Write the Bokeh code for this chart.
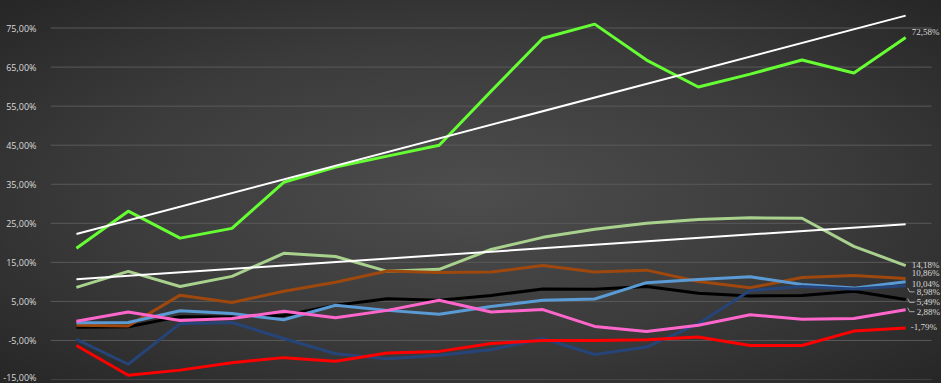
from bokeh.plotting import figure
from bokeh.models import (FixedTicker, CustomJSTickFormatter, Range1d, GlobalInlineStyleSheet,
                          LabelSet, ColumnDataSource)
from bokeh.embed import file_html
from bokeh.resources import INLINE
import numpy as np

periods = list(range(17))
y_ticks = [-15, -5, 5, 15, 25, 35, 45, 55, 65, 75]

green = [18.6, 28.1, 21.2, 23.7, 35.5, 39.4, 42.2, 45.0, 58.8, 72.4, 76.0, 66.8, 59.9, 63.2, 66.8, 63.5, 72.58]
light_green = [8.6, 12.7, 8.8, 11.4, 17.3, 16.5, 12.7, 13.2, 18.3, 21.4, 23.5, 25.0, 26.0, 26.4, 26.3, 19.1, 14.18]
brown = [-1.1, -1.3, 6.6, 4.7, 7.6, 9.9, 12.8, 12.4, 12.5, 14.2, 12.5, 13.0, 10.1, 8.5, 11.1, 11.6, 10.86]
black = [-1.6, -1.5, 1.1, 1.0, 1.4, 4.0, 5.7, 5.3, 6.5, 8.2, 8.1, 8.8, 7.1, 6.4, 6.5, 7.6, 5.49]
light_blue = [-0.5, -0.4, 2.6, 1.9, 0.3, 4.0, 2.7, 1.7, 3.7, 5.3, 5.6, 9.8, 10.6, 11.3, 9.3, 8.4, 10.04]
dark_blue = [-4.7, -11.1, -0.7, -0.4, -4.5, -8.4, -9.7, -8.8, -7.4, -4.5, -8.6, -6.7, -0.7, 7.8, 8.8, 8.2, 8.98]
pink = [-0.1, 2.3, 0.1, 0.6, 2.5, 0.8, 2.7, 5.3, 2.3, 2.9, -1.4, -2.7, -1.1, 1.6, 0.4, 0.6, 2.88]
red = [-6.3, -13.9, -12.6, -10.7, -9.4, -10.3, -8.2, -7.8, -5.8, -5.0, -5.0, -4.8, -4.1, -6.3, -6.3, -2.6, -1.79]

series = [
    (green, "#66FF33"),
    (light_green, "#A9D18E"),
    (black, "#000000"),
    (brown, "#9E480E"),
    (light_blue, "#5B9BD5"),
    (dark_blue, "#264478"),
    (pink, "#FF66CC"),
    (red, "#FF0000"),
]

# label placement (pixel offsets), styling only
label_dx = {"green": 6, "light_green": 6, "brown": 6, "light_blue": 6, "dark_blue": 11, "black": 11, "pink": 11, "red": 5}
label_dy = {"green": -5, "light_green": -1, "brown": -6, "light_blue": 2, "dark_blue": 6, "black": 3, "pink": 2, "red": -1}

W, H = 941, 383
LEFT, RIGHT_GAP = 43, 10
n_cat = len(periods)
cat_px = (W - LEFT - RIGHT_GAP) / n_cat          # width of one category slot
x_end = -0.5 + (W - LEFT) / cat_px                # frame runs to the right edge so labels are not clipped

p = figure(width=W, height=H, output_backend="svg", toolbar_location=None,
           x_range=Range1d(-0.5, x_end), y_range=Range1d(-15, 80),
           min_border_left=LEFT, min_border_right=0, min_border_top=8, min_border_bottom=4)
p.background_fill_color = None
p.border_fill_color = None
p.outline_line_color = None
p.styles = {"background": "radial-gradient(ellipse at 50% 50%, #4d4d4d 0%, #3b3b3b 55%, #262626 100%)"}
p.stylesheets = [GlobalInlineStyleSheet(css="html, body { background: #272727; margin: 0; padding: 0; overflow: hidden; }")]

p.xaxis.visible = False
p.xgrid.visible = False
p.ygrid.visible = False
p.yaxis.ticker = FixedTicker(ticks=y_ticks)
p.yaxis.formatter = CustomJSTickFormatter(code="return tick.toFixed(2).replace('.', ',') + '%';")
p.yaxis.axis_line_color = None
p.yaxis.major_tick_line_color = None
p.yaxis.minor_tick_line_color = None
p.yaxis.major_label_text_color = "#d9d9d9"
p.yaxis.major_label_text_font = "Open Sans"
p.yaxis.major_label_text_font_size = "9px"
p.yaxis.major_label_standoff = 8

# horizontal gridlines across the category area only
p.segment(x0=[-0.5] * len(y_ticks), x1=[n_cat - 0.5] * len(y_ticks), y0=y_ticks, y1=y_ticks,
          line_color="#5a5a5a", line_width=1)

x = np.array(periods, dtype=float)

for vals, col in series:
    p.line(x, vals, line_color=col, line_width=3)

# linear trendlines
for vals in (green, light_green):
    k, b = np.polyfit(x, np.array(vals), 1)
    p.line([x[0], x[-1]], [k * x[0] + b, k * x[-1] + b], line_color="#FFFFFF", line_width=2)

names = ["green", "light_green", "black", "brown", "light_blue", "dark_blue", "pink", "red"]
px_x = 1.0 / cat_px
px_y = (p.y_range.end - p.y_range.start) / (H - 12)

lx, ly, lt, ldx, ldy = [], [], [], [], []
for (vals, col), nm in zip(series, names):
    last = vals[-1]
    lx.append(x[-1])
    ly.append(last)
    lt.append(f"{last:.2f}".replace(".", ",") + "%")
    ldx.append(label_dx[nm])
    ldy.append(-label_dy[nm])
    if nm in ("dark_blue", "black", "pink"):
        dy = label_dy[nm]
        xs = [x[-1] + 2 * px_x, x[-1] + 4 * px_x, x[-1] + 9 * px_x]
        ys = [last - (dy - 4) * px_y, last - dy * px_y, last - dy * px_y]
        p.line(xs, ys, line_color="#a6a6a6", line_width=1)

src = ColumnDataSource(dict(x=lx, y=ly, text=lt, dx=ldx, dy=ldy))
labels = LabelSet(x="x", y="y", text="text", x_offset="dx", y_offset="dy", source=src,
                  text_font="Open Sans", text_font_size="9px", text_color="#d9d9d9",
                  text_baseline="middle", text_align="left")
p.add_layout(labels)

open("out.html", "w").write(file_html(p, INLINE))
